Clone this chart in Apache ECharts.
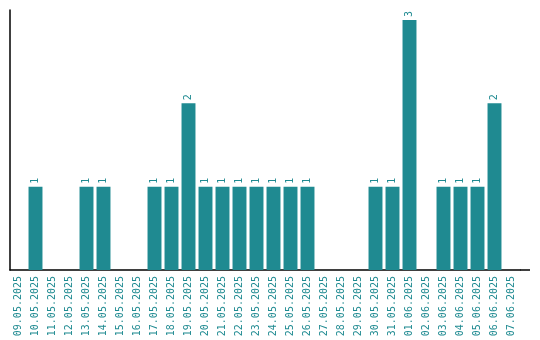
<!DOCTYPE html>
<html><head><meta charset="utf-8">
<script src="https://cdn.jsdelivr.net/npm/echarts@6/dist/echarts.min.js"></script>
<style>html,body{margin:0;padding:0;background:#fff}#c{width:540px;height:340px}</style>
</head><body><div id="c"></div>
<script>
const categories = ["09.05.2025","10.05.2025","11.05.2025","12.05.2025","13.05.2025","14.05.2025","15.05.2025","16.05.2025","17.05.2025","18.05.2025","19.05.2025","20.05.2025","21.05.2025","22.05.2025","23.05.2025","24.05.2025","25.05.2025","26.05.2025","27.05.2025","28.05.2025","29.05.2025","30.05.2025","31.05.2025","01.06.2025","02.06.2025","03.06.2025","04.06.2025","05.06.2025","06.06.2025","07.06.2025"];
const values = [0,1,0,0,1,1,0,0,1,1,2,1,1,1,1,1,1,1,0,0,0,1,1,3,0,1,1,1,2,0];
const teal = '#1f8a91';
const chart = echarts.init(document.getElementById('c'));
chart.setOption({
  animation:false,
  grid:{left:10,right:20,top:10,bottom:70},
  graphic:[{type:'line',shape:{x1:520,y1:270,x2:530,y2:270},style:{stroke:'#000',lineWidth:1.5}}],
  xAxis:{type:'category',data:categories,
    axisLine:{lineStyle:{color:'#000',width:1.5}},axisTick:{show:false},
    axisLabel:{rotate:90,interval:0,color:teal,fontFamily:'DejaVu Sans Mono',fontSize:10,margin:6}},
  yAxis:{type:'value',min:0,max:3.12,splitLine:{show:false},
    axisLine:{show:true,lineStyle:{color:'#000',width:1.5}},axisTick:{show:false},axisLabel:{show:false}},
  series:[{type:'bar',data:values.map(v=>v===0?null:v),barWidth:'82%',itemStyle:{color:teal},
    label:{show:true,position:'top',rotate:90,align:'left',verticalAlign:'middle',distance:3,color:teal,fontFamily:'DejaVu Sans Mono',fontSize:10}}]
});
</script></body></html>
